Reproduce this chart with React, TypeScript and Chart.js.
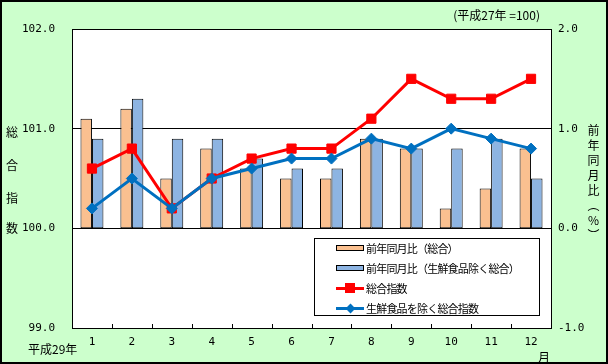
import React, { useEffect, useRef } from "react";
import { Chart, registerables } from "chart.js";

Chart.register(...registerables);

const months = ["1", "2", "3", "4", "5", "6", "7", "8", "9", "10", "11", "12"];
const yoyTotal = [1.1, 1.2, 0.5, 0.8, 0.6, 0.5, 0.5, 0.9, 0.8, 0.2, 0.4, 0.8];
const yoyCore = [0.9, 1.3, 0.9, 0.9, 0.7, 0.6, 0.6, 0.9, 0.8, 0.8, 0.9, 0.5];
const indexTotal = [100.6, 100.8, 100.2, 100.5, 100.7, 100.8, 100.8, 101.1, 101.5, 101.3, 101.3, 101.5];
const indexCore = [100.2, 100.5, 100.2, 100.5, 100.6, 100.7, 100.7, 100.9, 100.8, 101.0, 100.9, 100.8];
const leftTicks = [99, 100, 101, 102];
const rightTicks = [-1, 0, 1, 2];

const seriesNames = [
  "前年同月比（総合）",
  "前年同月比（生鮮食品除く総合）",
  "総合指数",
  "生鮮食品を除く総合指数",
];

const ORANGE = "#FAC090";
const BLUE_BAR = "#8DB4E2";
const RED = "#FF0000";
const BLUE_LINE = "#0070C0";
const GREEN = "#CCFFCC";
const NUM_FONT = "'DejaVu Sans Mono', 'Liberation Mono', monospace";
const CJK_FONT = "'Noto Sans CJK JP', sans-serif";

const bgPlugin = {
  id: "bgPlugin",
  beforeDraw(chart: any) {
    const { ctx, chartArea } = chart;
    ctx.save();
    ctx.fillStyle = GREEN;
    ctx.fillRect(0, 0, chart.width, chart.height);
    ctx.fillStyle = "#FFFFFF";
    ctx.fillRect(chartArea.left, chartArea.top, chartArea.right - chartArea.left, chartArea.bottom - chartArea.top);
    ctx.restore();
  },
  afterDatasetsDraw(chart: any) {
    const { ctx, chartArea } = chart;
    const x = chart.scales.x;
    ctx.save();
    ctx.strokeStyle = "#000";
    ctx.lineWidth = 1;
    ctx.beginPath();
    for (let i = 1; i < months.length; i++) {
      const px = Math.round((x.getPixelForValue(i - 1) + x.getPixelForValue(i)) / 2) + 0.5;
      ctx.moveTo(px, chartArea.bottom);
      ctx.lineTo(px, chartArea.bottom - 4);
    }
    ctx.stroke();
    ctx.restore();
  },
};

export default function App() {
  const canvasRef = useRef<HTMLCanvasElement | null>(null);

  useEffect(() => {
    if (!canvasRef.current) return;
    const chart = new Chart(canvasRef.current, {
      type: "bar",
      data: {
        labels: months,
        datasets: [
          {
            type: "line",
            label: seriesNames[3],
            data: indexCore,
            yAxisID: "y",
            borderColor: BLUE_LINE,
            backgroundColor: BLUE_LINE,
            borderWidth: 3,
            pointStyle: "rectRot",
            pointRadius: 5.5,
            pointBorderWidth: 1,
            tension: 0,
            order: 0,
          } as any,
          {
            type: "line",
            label: seriesNames[2],
            data: indexTotal,
            yAxisID: "y",
            borderColor: RED,
            backgroundColor: RED,
            borderWidth: 3,
            pointStyle: "rect",
            pointRadius: 6.5,
            pointBorderWidth: 1,
            tension: 0,
            order: 1,
          } as any,
          {
            type: "bar",
            label: seriesNames[0],
            data: yoyTotal,
            yAxisID: "y1",
            backgroundColor: ORANGE,
            borderColor: "#000",
            borderWidth: 1,
            borderSkipped: false,
            categoryPercentage: 0.575,
            barPercentage: 1,
            order: 2,
          } as any,
          {
            type: "bar",
            label: seriesNames[1],
            data: yoyCore,
            yAxisID: "y1",
            backgroundColor: BLUE_BAR,
            borderColor: "#000",
            borderWidth: 1,
            borderSkipped: false,
            categoryPercentage: 0.575,
            barPercentage: 1,
            order: 2,
          } as any,
        ],
      },
      options: {
        animation: false,
        responsive: false,
        maintainAspectRatio: false,
        layout: { padding: { top: 29, left: 0, right: 0, bottom: 0 } },
        plugins: {
          legend: { display: false },
          tooltip: { enabled: false },
          title: { display: false },
        },
        scales: {
          x: {
            type: "category",
            offset: true,
            grid: { display: false, drawTicks: false },
            border: { display: true, color: "#000", width: 1 },
            ticks: {
              color: "#000",
              font: { family: NUM_FONT, size: 11 },
              padding: 8,
              maxRotation: 0,
              autoSkip: false,
            },
            afterFit(scale: any) {
              scale.height = 36;
            },
          },
          y: {
            type: "linear",
            position: "left",
            min: 99,
            max: 102,
            grid: { display: true, color: "#000", lineWidth: 1, drawTicks: false },
            border: { display: true, color: "#000", width: 1 },
            ticks: {
              color: "#000",
              font: { family: NUM_FONT, size: 11 },
              padding: 17,
              callback: (v: any) => Number(v).toFixed(1),
            },
            afterBuildTicks(scale: any) {
              scale.ticks = leftTicks.map((v) => ({ value: v }));
            },
            afterFit(scale: any) {
              scale.width = 72;
            },
          },
          y1: {
            type: "linear",
            position: "right",
            min: -1,
            max: 2,
            grid: { display: false, drawTicks: false },
            border: { display: true, color: "#000", width: 1 },
            ticks: {
              color: "#000",
              font: { family: NUM_FONT, size: 11 },
              padding: 7,
              callback: (v: any) => Number(v).toFixed(1),
            },
            afterBuildTicks(scale: any) {
              scale.ticks = rightTicks.map((v) => ({ value: v }));
            },
            afterFit(scale: any) {
              scale.width = 57;
            },
          },
        },
      } as any,
      plugins: [bgPlugin],
    });
    return () => chart.destroy();
  }, []);

  const legendRow = (i: number, top: number) => {
    const isBar = i < 2;
    return (
      <div key={i} style={{ position: "absolute", left: 0, top: top - 10, width: 226, height: 20 }}>
        {isBar ? (
          <div
            style={{
              position: "absolute",
              left: 21,
              top: 7,
              width: 28,
              height: 6,
              boxSizing: "border-box",
              border: "1px solid #000",
              background: i === 0 ? ORANGE : BLUE_BAR,
            }}
          />
        ) : (
          <>
            <div
              style={{
                position: "absolute",
                left: 21,
                top: 9,
                width: 28,
                height: 3,
                background: i === 2 ? RED : BLUE_LINE,
              }}
            />
            {i === 2 ? (
              <div
                style={{ position: "absolute", left: 30, top: 5, width: 10, height: 10, background: RED }}
              />
            ) : (
              <div
                style={{
                  position: "absolute",
                  left: 31.5,
                  top: 6.5,
                  width: 7,
                  height: 7,
                  background: BLUE_LINE,
                  transform: "rotate(45deg)",
                }}
              />
            )}
          </>
        )}
        <span
          style={{
            position: "absolute",
            left: 51,
            top: 2,
            fontFamily: CJK_FONT,
            fontSize: 11,
            lineHeight: "16px",
            letterSpacing: "-0.8px",
            whiteSpace: "nowrap",
            color: "#000",
          }}
        >
          {seriesNames[i]}
        </span>
      </div>
    );
  };

  const leftTitle = ["総", "合", "指", "数"];
  const leftTitleY = [132, 165, 198, 228];

  return (
    <div
      style={{
        position: "fixed",
        left: 0,
        top: 0,
        width: 608,
        height: 364,
        background: GREEN,
        overflow: "hidden",
      }}
    >
      <canvas ref={canvasRef} width={608} height={364} style={{ position: "absolute", left: 0, top: 0, width: 608, height: 364 }} />
      <div
        style={{
          position: "absolute",
          left: 0,
          top: 0,
          width: 608,
          height: 364,
          boxSizing: "border-box",
          border: "2px solid #000",
          pointerEvents: "none",
        }}
      />
      {leftTitle.map((c, i) => (
        <div
          key={c}
          style={{
            position: "absolute",
            left: 5,
            top: leftTitleY[i] - 8,
            width: 14,
            height: 16,
            lineHeight: "16px",
            textAlign: "center",
            fontFamily: CJK_FONT,
            fontSize: 12,
            color: "#000",
          }}
        >
          {c}
        </div>
      ))}
      <div
        style={{
          position: "absolute",
          left: 585,
          top: 124,
          width: 16,
          writingMode: "vertical-rl",
          textOrientation: "upright",
          fontFamily: CJK_FONT,
          fontSize: 12,
          letterSpacing: "3px",
          lineHeight: "16px",
          color: "#000",
          whiteSpace: "nowrap",
        }}
      >
        前年同月比（%）
      </div>
      <div
        style={{
          position: "absolute",
          right: 608 - 540,
          top: 6,
          fontFamily: CJK_FONT,
          fontSize: 12,
          lineHeight: "18px",
          whiteSpace: "nowrap",
          color: "#000",
        }}
      >
        (平成27年 =100)
      </div>
      <div
        style={{
          position: "absolute",
          left: 28,
          top: 340,
          fontFamily: CJK_FONT,
          fontSize: 12,
          lineHeight: "18px",
          whiteSpace: "nowrap",
          color: "#000",
        }}
      >
        平成29年
      </div>
      <div
        style={{
          position: "absolute",
          left: 538,
          top: 348,
          fontFamily: CJK_FONT,
          fontSize: 12,
          lineHeight: "18px",
          whiteSpace: "nowrap",
          color: "#000",
        }}
      >
        月
      </div>
      <div
        style={{
          position: "absolute",
          left: 314,
          top: 238,
          width: 226,
          height: 78,
          boxSizing: "border-box",
          background: "#FFFFFF",
          border: "1px solid #000",
        }}
      >
        {legendRow(0, 9)}
        {legendRow(1, 29)}
        {legendRow(2, 49)}
        {legendRow(3, 69)}
      </div>
    </div>
  );
}
